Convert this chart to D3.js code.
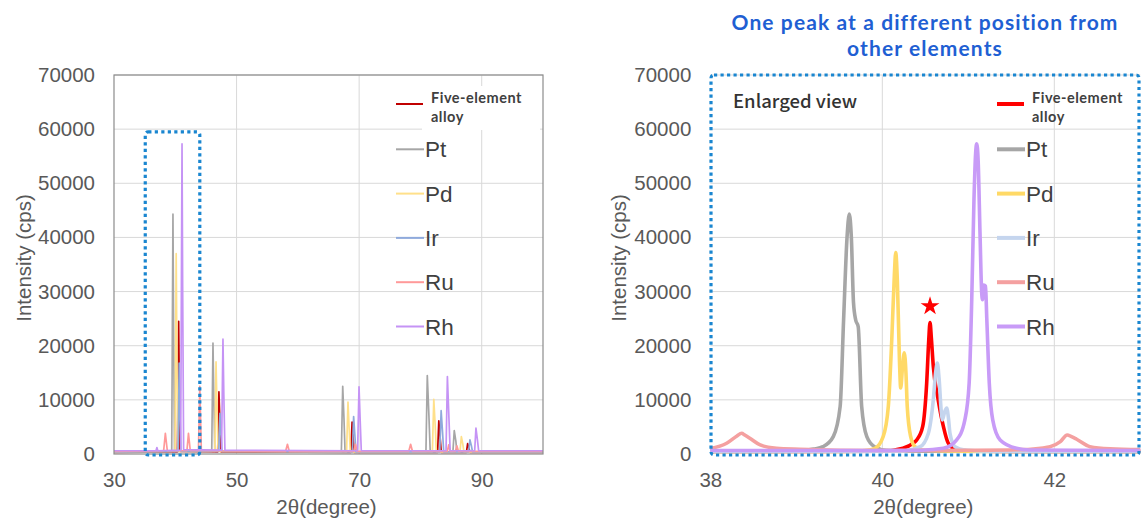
<!DOCTYPE html>
<html>
<head>
<meta charset="utf-8">
<script src="https://cdn.jsdelivr.net/npm/d3@7"></script>
<style>
  html, body { margin: 0; padding: 0; background: #ffffff; }
  svg { display: block; font-family: "Liberation Sans", Arial, sans-serif; }
</style>
</head>
<body>
<div id="chart"></div>
<script>
// series names, legend order
const seriesNames = ["Five-element alloy", "Pt", "Pd", "Ir", "Ru", "Rh"];
const legendLabels = ["Pt", "Pd", "Ir", "Ru", "Rh"];

// y axis (both panels)
const yTicks = [0, 10000, 20000, 30000, 40000, 50000, 60000, 70000];
// x axis ticks
const wideTicks = [30, 50, 70, 90];
const zoomTicks = [38, 40, 42];

// full scan 30-100 deg, [2theta, cps]
const wideAlloy = [[30,300],[40.35,400],[40.55,24500],[40.75,500],[46.92,400],[47.12,11500],[47.3,5500],[47.45,400],[68.65,300],[68.85,5900],[69.02,3000],[69.2,300],[82.8,300],[83.0,6100],[83.22,3000],[83.4,300],[87.5,300],[87.7,1900],[87.92,1000],[88.1,300],[100,300]];
const widePt = [[30,400],[39.42,500],[39.62,44300],[39.72,24000],[39.88,500],[45.95,500],[46.15,20500],[46.28,11000],[46.45,500],[67.1,400],[67.32,12500],[67.52,6700],[67.7,400],[80.9,400],[81.12,14500],[81.38,7200],[81.6,400],[85.3,400],[85.52,4300],[85.78,2400],[85.95,400],[100,400]];
const widePd = [[30,400],[39.95,500],[40.15,37000],[40.26,18500],[40.42,500],[46.45,500],[46.65,17000],[46.8,9000],[46.98,500],[67.95,400],[68.18,9600],[68.36,5000],[68.55,400],[81.95,400],[82.18,10100],[82.42,5000],[82.6,400],[86.45,400],[86.68,3200],[86.92,1800],[87.1,400],[100,400]];
const wideIr = [[30,400],[40.45,500],[40.64,16800],[40.75,8400],[40.92,500],[47.1,500],[47.3,7500],[47.45,4000],[47.62,500],[68.9,400],[69.1,6900],[69.3,3500],[69.48,400],[83.15,400],[83.38,8000],[83.6,4200],[83.8,400],[87.85,400],[88.08,2600],[88.32,1500],[88.5,400],[100,400]];
const wideRu = [[30,500],[38.1,600],[38.38,3800],[38.7,600],[41.9,600],[42.15,3800],[42.45,600],[43.78,600],[44.0,12500],[44.25,600],[58.0,500],[58.3,1800],[58.6,500],[69.15,500],[69.4,1800],[69.65,500],[78.1,500],[78.4,1800],[78.7,500],[84.4,500],[84.62,1700],[84.85,500],[85.7,500],[85.95,1500],[86.2,500],[100,500]];
const wideRh = [[30,600],[36.85,600],[37.0,1200],[37.15,600],[40.88,700],[41.1,57300],[41.2,31000],[41.36,800],[47.55,700],[47.78,21200],[47.92,11000],[48.1,700],[69.75,600],[69.98,12400],[70.16,6500],[70.35,600],[84.18,600],[84.4,14300],[84.64,7000],[84.85,600],[88.85,600],[89.06,4800],[89.3,2600],[89.5,600],[100,600]];

// enlarged view 38-43 deg, [2theta, cps]
const zoomAlloy = [[38,450],[40.0,500],[40.24,1050],[40.36,2000],[40.4,2600],[40.47,5100],[40.516,13100],[40.54,21000],[40.555,24300],[40.57,21500],[40.593,16200],[40.65,10000],[40.71,5100],[40.767,2000],[40.865,750],[41.2,500],[43,450]];
const zoomPt = [[38,450],[38.6,450],[39.0,500],[39.2,900],[39.31,1350],[39.43,3200],[39.51,8800],[39.55,24800],[39.59,40000],[39.616,44300],[39.64,40000],[39.665,28000],[39.69,24800],[39.72,23500],[39.76,8800],[39.82,3200],[39.91,1350],[40.05,700],[40.5,500],[43,450]];
const zoomPd = [[38,450],[39.6,480],[39.8,650],[39.915,1050],[40.01,3200],[40.07,8800],[40.11,21100],[40.14,33000],[40.156,37200],[40.175,32000],[40.2,17000],[40.214,12200],[40.235,16000],[40.256,18700],[40.275,15000],[40.29,8800],[40.33,3200],[40.38,1350],[40.5,700],[41,500],[43,450]];
const zoomIr = [[38,450],[40.2,500],[40.44,1350],[40.535,3800],[40.593,10000],[40.62,15000],[40.64,16800],[40.66,14000],[40.685,8000],[40.7,6300],[40.725,7800],[40.749,8500],[40.77,6500],[40.787,3800],[40.845,1350],[40.96,750],[41.3,500],[43,450]];
const zoomRu = [[38,1000],[38.19,1980],[38.31,3330],[38.365,3830],[38.4,3500],[38.46,2900],[38.58,1670],[38.77,1050],[39.04,870],[39.5,700],[40,650],[41,700],[41.6,800],[41.95,1350],[42.07,2280],[42.15,3520],[42.2,3200],[42.26,2720],[42.415,1350],[42.65,950],[43,800]];
const zoomRh = [[38,650],[40,650],[40.45,700],[40.71,1050],[40.865,2600],[40.96,6300],[41.01,13100],[41.04,28500],[41.066,47000],[41.085,55500],[41.098,57300],[41.115,54000],[41.136,40900],[41.155,30000],[41.165,28500],[41.18,31200],[41.2,31000],[41.215,25000],[41.244,13100],[41.284,6300],[41.37,2600],[41.56,1050],[41.71,750],[43,650]];

// starred peak of the alloy
const starPeak = [[40.555, 27300]];

const WIDTH = 1142;
const HEIGHT = 520;
const Y_TOP = 75;
const Y_BOTTOM = 454;
const TICK_FONT = "20.5px";
const TEXT_COLOR = "#595959";
const FRAME_BLUE = "#1a86d0";
const NOTE_FONT = "Lato, 'Noto Sans', sans-serif";

const wideColors = ["#c00000", "#a6a6a6", "#ffe08a", "#8faadc", "#ff9999", "#c593f5"];
const zoomColors = ["#ff0000", "#a6a6a6", "#ffd966", "#c5d5ee", "#f4a0a0", "#c89bf7"];

const svg = d3.select("#chart")
  .append("svg")
  .attr("width", WIDTH)
  .attr("height", HEIGHT)
  .attr("viewBox", [0, 0, WIDTH, HEIGHT]);

const y = d3.scaleLinear().domain([0, 70000]).range([Y_BOTTOM, Y_TOP]);

function drawFrame(x, ticks, yTitleX) {
  const [x0, x1] = x.range();
  // gridlines
  svg.append("g")
    .selectAll("line")
    .data(yTicks.slice(1))
    .join("line")
    .attr("x1", x0).attr("x2", x1)
    .attr("y1", (d) => y(d)).attr("y2", (d) => y(d))
    .attr("stroke", "#d9d9d9").attr("stroke-width", 1);
  svg.append("g")
    .selectAll("line")
    .data(ticks.slice(1))
    .join("line")
    .attr("x1", (d) => x(d)).attr("x2", (d) => x(d))
    .attr("y1", Y_TOP).attr("y2", Y_BOTTOM)
    .attr("stroke", "#d9d9d9").attr("stroke-width", 1);

  const yAxis = svg.append("g")
    .attr("transform", `translate(${x0},0)`)
    .call(d3.axisLeft(y).tickValues(yTicks).tickSize(0).tickPadding(19).tickFormat(d3.format("d")));
  const xAxis = svg.append("g")
    .attr("transform", `translate(0,${Y_BOTTOM})`)
    .call(d3.axisBottom(x).tickValues(ticks).tickSize(0).tickFormat(d3.format("d")));
  [yAxis, xAxis].forEach((a) => {
    a.select(".domain").remove();
    a.selectAll("text")
      .attr("font-size", TICK_FONT)
      .attr("font-family", "'Liberation Sans', Arial, sans-serif")
      .attr("fill", TEXT_COLOR);
  });
  xAxis.selectAll("text").attr("dy", null).attr("y", 33);

  svg.append("text")
    .attr("transform", `translate(${yTitleX},258) rotate(-90)`)
    .attr("text-anchor", "middle")
    .attr("dominant-baseline", "central")
    .attr("font-size", TICK_FONT)
    .attr("fill", TEXT_COLOR)
    .text("Intensity (cps)");
  svg.append("text")
    .attr("x", (x0 + x1) / 2 - 2)
    .attr("y", 514)
    .attr("text-anchor", "middle")
    .attr("font-size", TICK_FONT)
    .attr("fill", TEXT_COLOR)
    .text("2θ(degree)");
}

function drawSeries(x, seriesList, colors, width, curve) {
  const line = d3.line()
    .x((d) => x(d[0]))
    .y((d) => y(d[1]))
    .curve(curve);
  svg.append("g")
    .selectAll("path")
    .data(seriesList)
    .join("path")
    .attr("d", line)
    .attr("fill", "none")
    .attr("stroke", (d, i) => colors[i])
    .attr("stroke-width", width)
    .attr("stroke-linejoin", "round");
}

function drawLegend(x0, colors, lineWidth, bg) {
  const g = svg.append("g");
  if (bg) {
    g.append("rect")
      .attr("x", x0 + 26).attr("y", 86)
      .attr("width", 118).attr("height", 44)
      .attr("fill", "#ffffff");
  }
  g.append("line")
    .attr("x1", x0).attr("x2", x0 + 27)
    .attr("y1", 104).attr("y2", 104)
    .attr("stroke", colors[0]).attr("stroke-width", lineWidth);
  // two separate lines of the alloy label
  ["Five-element", "alloy"].forEach((s, i) => {
    g.append("text")
      .attr("x", x0 + 35)
      .attr("y", 103 + i * 18.5)
      .attr("font-family", NOTE_FONT)
      .attr("font-size", "14.5px")
      .attr("font-weight", "bold")
      .attr("letter-spacing", "0.5px")
      .attr("fill", "#404040")
      .text(s);
  });

  legendLabels.forEach((name, i) => {
    const ly = 149.3 + i * 44.3;
    g.append("line")
      .attr("x1", x0).attr("x2", x0 + 28)
      .attr("y1", ly).attr("y2", ly)
      .attr("stroke", colors[i + 1]).attr("stroke-width", lineWidth);
    g.append("text")
      .attr("x", x0 + 29)
      .attr("y", ly + 8)
      .attr("font-size", "22.5px")
      .attr("fill", "#404040")
      .text(name);
  });
}

function dottedRect(x, y0, x1, y1) {
  svg.append("rect")
    .attr("x", x).attr("y", y0)
    .attr("width", x1 - x).attr("height", y1 - y0)
    .attr("rx", 3)
    .attr("fill", "none")
    .attr("stroke", FRAME_BLUE)
    .attr("stroke-width", 3.2)
    .attr("stroke-dasharray", "3.2,3.3");
}

// ---- left panel: full pattern ----
const xWide = d3.scaleLinear().domain([30, 100]).range([114, 543]);
drawFrame(xWide, wideTicks, 23);
drawSeries(xWide, [wideAlloy, widePt, widePd, wideIr, wideRu, wideRh], wideColors, 1.7, d3.curveLinear);
svg.append("rect")
  .attr("x", 114).attr("y", Y_TOP)
  .attr("width", 543 - 114).attr("height", Y_BOTTOM - Y_TOP)
  .attr("fill", "none")
  .attr("stroke", "#8c8c8c").attr("stroke-width", 1.2);
drawLegend(396, wideColors, 2, true);
dottedRect(xWide(35.1), y(59500), xWide(44.0), Y_BOTTOM + 1);

// ---- right panel: enlarged view ----
const xZoom = d3.scaleLinear().domain([38, 43]).range([710.3, 1140.3]);
drawFrame(xZoom, zoomTicks, 618);
drawSeries(xZoom, [zoomAlloy, zoomPt, zoomPd, zoomIr, zoomRu, zoomRh], zoomColors, 3.6, d3.curveMonotoneX);
svg.append("g")
  .selectAll("path")
  .data(starPeak)
  .join("path")
  .attr("transform", (d) => `translate(${xZoom(d[0])},${y(d[1])})`)
  .attr("d", d3.symbol(d3.symbolStar, 110))
  .attr("fill", "#ff0000");
drawLegend(997, zoomColors, 4, false);
dottedRect(711, 75, 1139, 455);

svg.append("text")
  .attr("x", 733).attr("y", 108)
  .attr("font-family", "'Noto Sans CJK JP', 'Noto Sans', sans-serif")
  .attr("font-size", "18.5px")
  .attr("font-weight", 500)
  .attr("fill", "#333333")
  .text("Enlarged view");

// title, one text per line
["One peak at a different position from", "other elements"].forEach((s, i) => {
  svg.append("text")
    .attr("x", 925)
    .attr("y", 30 + i * 26)
    .attr("text-anchor", "middle")
    .attr("font-family", NOTE_FONT)
    .attr("font-size", "21px")
    .attr("font-weight", "bold")
    .attr("letter-spacing", "1.1px")
    .attr("fill", "#1f5fd3")
    .text(s);
});
</script>
</body>
</html>
